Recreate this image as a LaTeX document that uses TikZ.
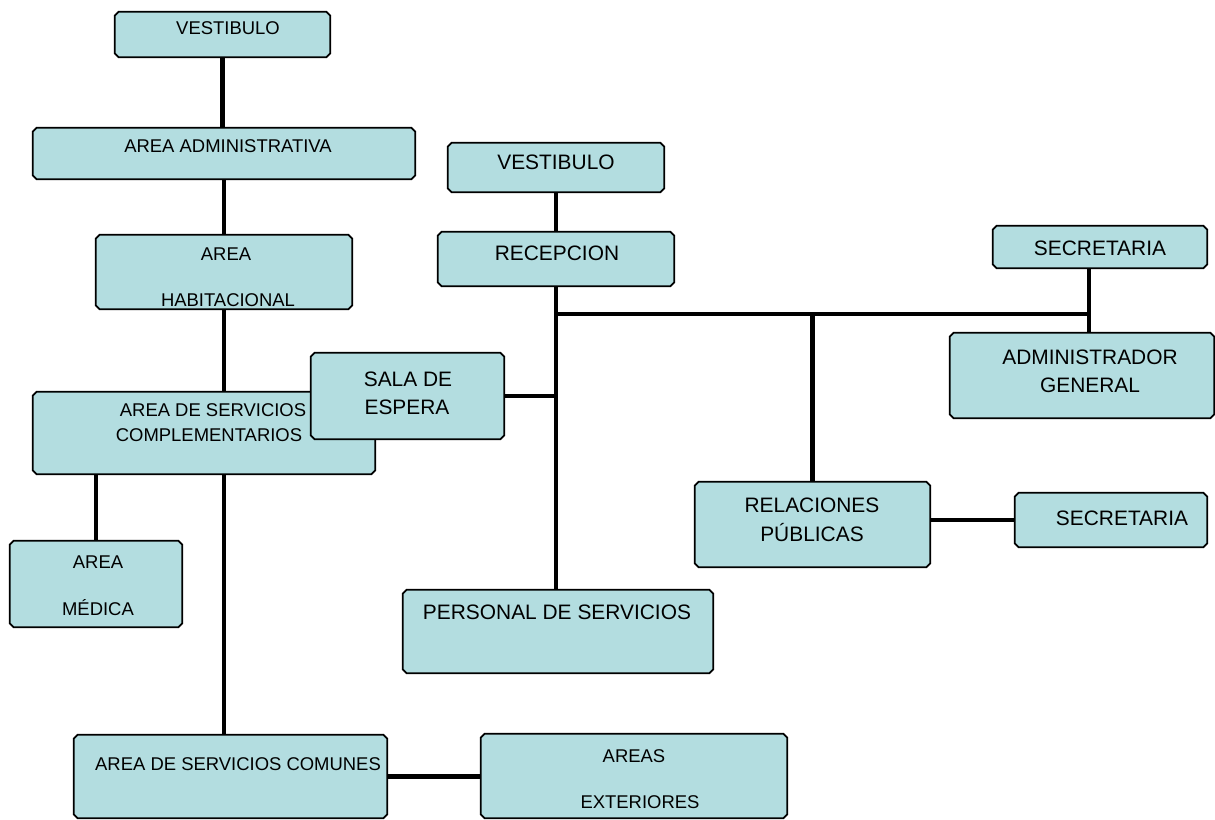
\documentclass[tikz,border=0pt]{standalone}
\usepackage{fontspec}
\setmainfont{Liberation Sans}
\definecolor{boxcyan}{RGB}{179,221,224}

\begin{document}
\begin{tikzpicture}[x=0.02cm, y=-0.02cm,
    box/.style={rectangle, inner sep=0pt, append after command={\pgfextra{
        \filldraw[line width=1pt, fill=boxcyan]
        ([xshift=0.08cm]\tikzlastnode.north west) -- ([xshift=-0.08cm]\tikzlastnode.north east)
        -- ([yshift=-0.08cm]\tikzlastnode.north east) -- ([yshift=0.08cm]\tikzlastnode.south east)
        -- ([xshift=-0.08cm]\tikzlastnode.south east) -- ([xshift=0.08cm]\tikzlastnode.south west)
        -- ([yshift=0.08cm]\tikzlastnode.south west) -- ([yshift=-0.08cm]\tikzlastnode.north west)
        -- cycle;}}},
    lft/.style={font=\fontsize{10.5}{12}\selectfont, inner sep=0pt},
    rgt/.style={font=\fontsize{11.9}{14}\selectfont, inner sep=0pt},
    link/.style={line width=2.3pt}]
    \useasboundingbox (0,0) rectangle (1215,820);
    % left column
    \node[box, minimum width=4.30cm, minimum height=0.90cm] (vestA) at (222.5,34.5) {};
    \node[lft] (vestA-t) at (228,28) {VESTIBULO};
    \node[box, minimum width=7.64cm, minimum height=1.02cm] (admin) at (224,153.5) {};
    \node[lft] (admin-t) at (228,146) {AREA ADMINISTRATIVA};
    \node[box, minimum width=5.12cm, minimum height=1.48cm] (habit) at (224,272) {};
    \node[lft] (habit-t1) at (226,254) {AREA};
    \node[lft] (habit-t2) at (228,300) {HABITACIONAL};
    \node[box, minimum width=6.84cm, minimum height=1.64cm] (compl) at (204,433) {};
    \node[lft] (compl-t1) at (213,410) {AREA DE SERVICIOS};
    \node[lft] (compl-t2) at (209,435) {COMPLEMENTARIOS};
    \node[box, minimum width=3.86cm, minimum height=1.72cm] (sala) at (407.5,396) {};
    \node[rgt] (sala-t1) at (408,379) {SALA DE};
    \node[rgt] (sala-t2) at (407,407) {ESPERA};
    \node[box, minimum width=3.44cm, minimum height=1.72cm] (medica) at (96,584) {};
    \node[lft] (medica-t1) at (98,562) {AREA};
    \node[lft] (medica-t2) at (98,608) {MÉDICA};
    \node[box, minimum width=6.26cm, minimum height=1.66cm] (comunes) at (230.5,776.5) {};
    \node[lft] (comunes-t) at (238,764) {AREA DE SERVICIOS COMUNES};
    \node[box, minimum width=6.12cm, minimum height=1.68cm] (exter) at (634,776) {};
    \node[lft] (exter-t1) at (634,756) {AREAS};
    \node[lft] (exter-t2) at (640,802) {EXTERIORES};
    % right part
    \node[box, minimum width=4.32cm, minimum height=0.98cm] (vestB) at (556,167.5) {};
    \node[rgt] (vestB-t) at (556,162) {VESTIBULO};
    \node[box, minimum width=4.72cm, minimum height=1.08cm] (recep) at (556,259) {};
    \node[rgt] (recep-t) at (557,253) {RECEPCION};
    \node[box, minimum width=6.20cm, minimum height=1.66cm] (personal) at (558,631.5) {};
    \node[rgt] (personal-t) at (557,612) {PERSONAL DE SERVICIOS};
    \node[box, minimum width=4.28cm, minimum height=0.84cm] (secA) at (1100,247) {};
    \node[rgt] (secA-t) at (1100,248) {SECRETARIA};
    \node[box, minimum width=5.28cm, minimum height=1.70cm] (gral) at (1082,375.5) {};
    \node[rgt] (gral-t1) at (1090,357) {ADMINISTRADOR};
    \node[rgt] (gral-t2) at (1090,385) {GENERAL};
    \node[box, minimum width=4.70cm, minimum height=1.70cm] (relac) at (812.5,524.5) {};
    \node[rgt] (relac-t1) at (812,505) {RELACIONES};
    \node[rgt] (relac-t2) at (812,533) {PÚBLICAS};
    \node[box, minimum width=3.84cm, minimum height=1.08cm] (secB) at (1111,520) {};
    \node[rgt] (secB-t) at (1122,518) {SECRETARIA};
    \coordinate (hub) at (557,314);
    \coordinate (secjoin) at (1089,314);
    % connectors
    \draw[link] (vestA.south) -- (vestA.south |- admin.north);
    \draw[link] (admin.south) -- (admin.south |- habit.north);
    \draw[link] (habit.south) -- (habit.south |- compl.north);
    \draw[link] (medica.north |- compl.south) -- (medica.north);
    \draw[link] (habit.south |- compl.south) -- (habit.south |- comunes.north);
    \draw[link] (comunes.east) -- (comunes.east -| exter.west);
    \draw[link] (vestB.south) -- (vestB.south |- recep.north);
    \draw[link, line width=2.8pt] (recep.south) -- (recep.south |- personal.north);
    \draw[link] (hub) -- (secjoin);
    \draw[link] (secjoin |- secA.south) -- (secjoin |- gral.north);
    \draw[link] (relac.north |- hub) -- (relac.north);
    \draw[link] (sala.east) -- (sala.east -| hub);
    \draw[link] (relac.east |- secB.west) -- (secB.west);
\end{tikzpicture}
\end{document}
